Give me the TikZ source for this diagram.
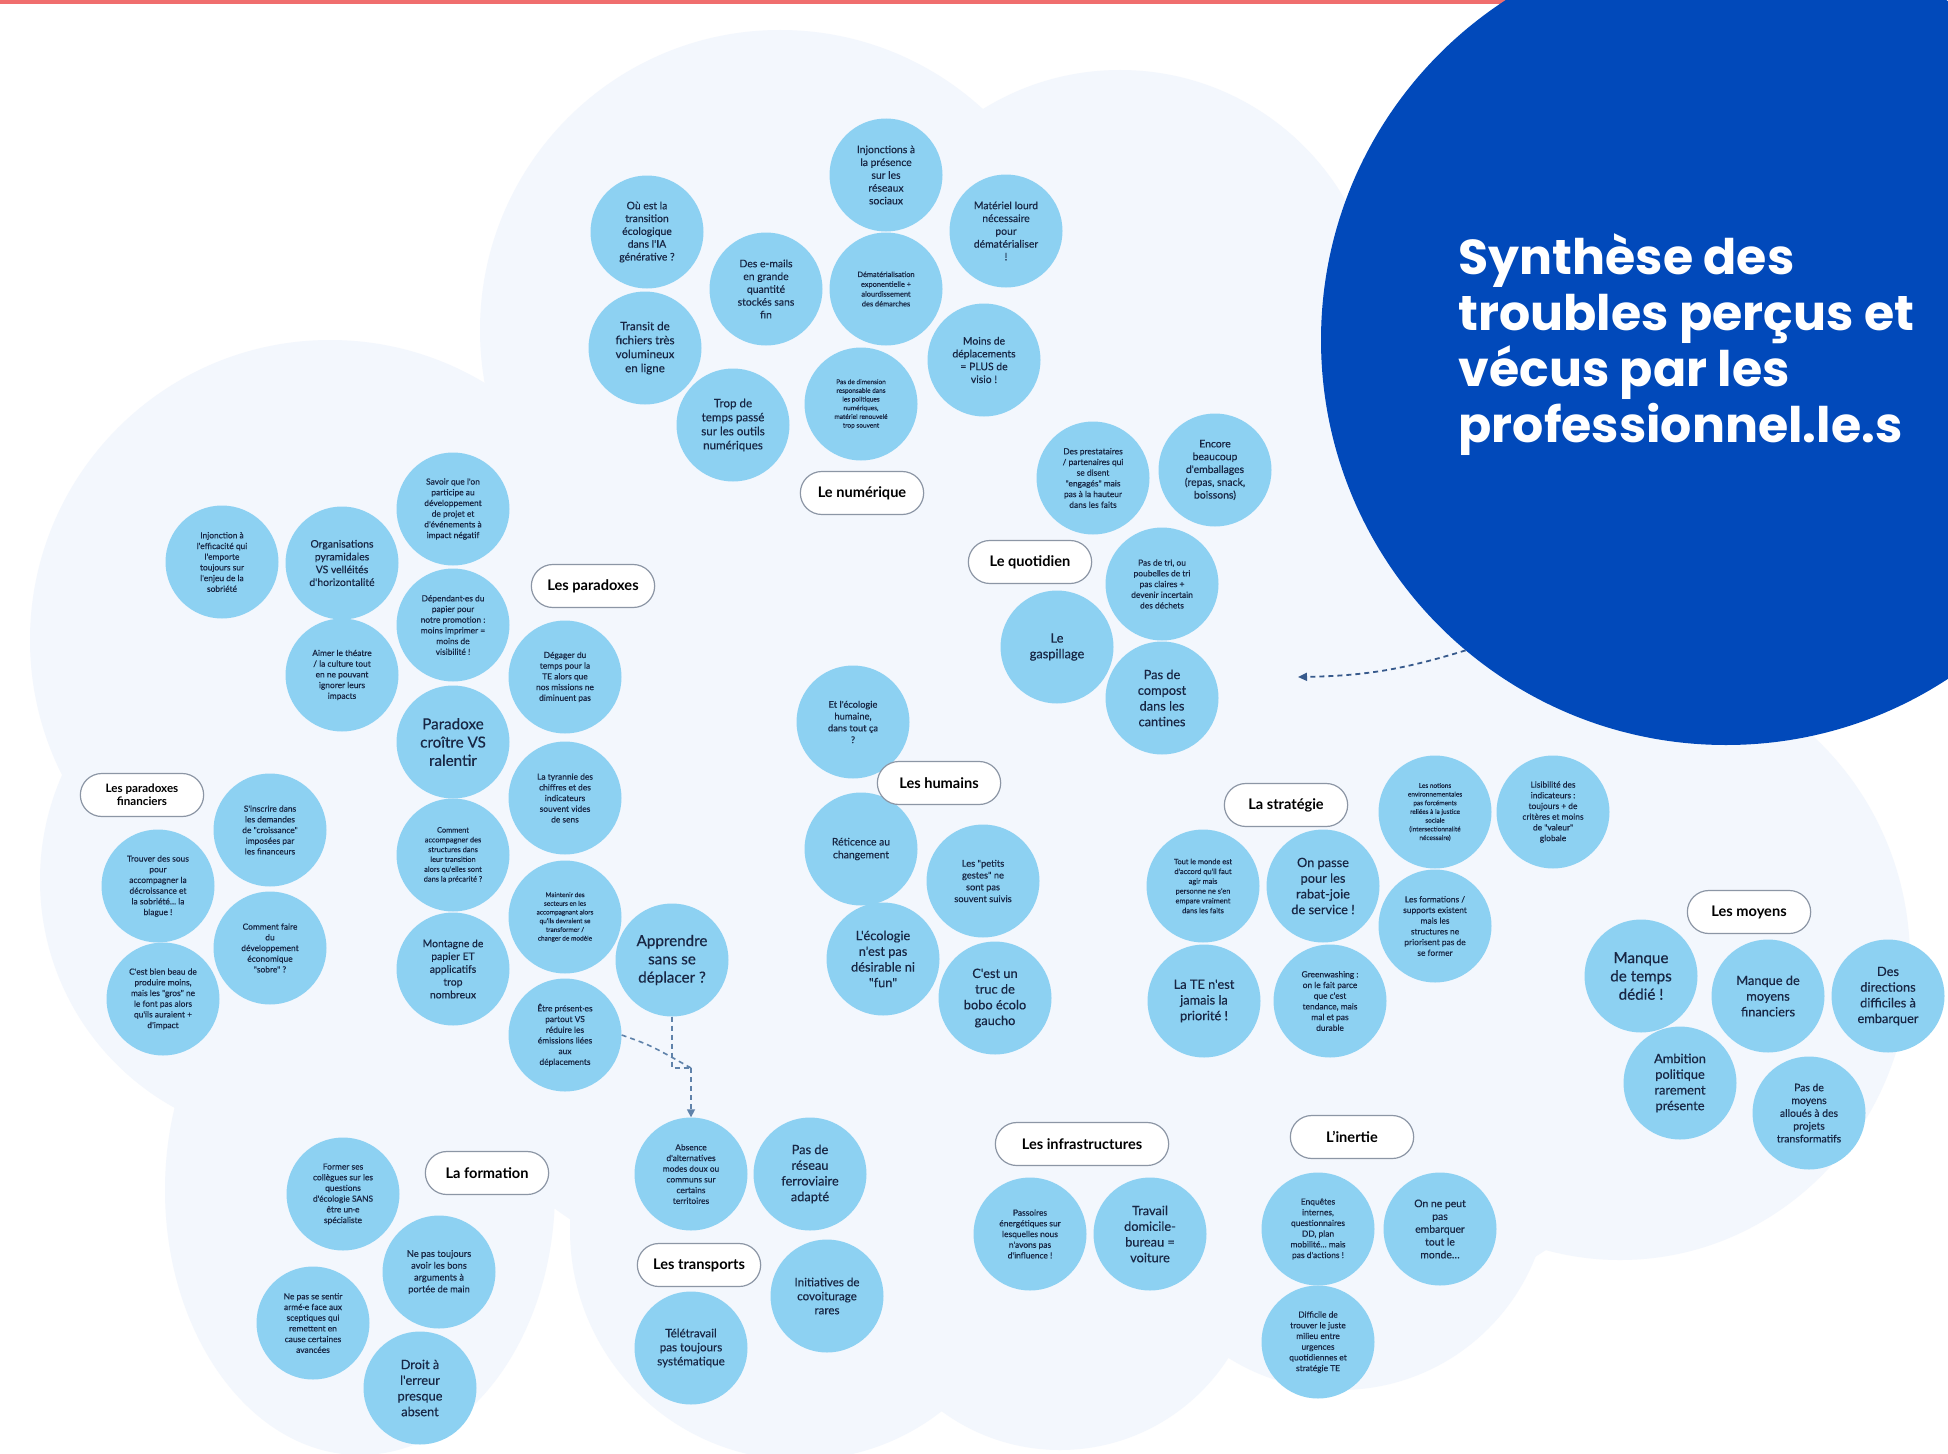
\documentclass[tikz,border=0pt]{standalone}
\usepackage{fontspec}
\setmainfont{Lato}
\newfontfamily\bubfont{Lato}[FakeBold=0.35]
\newfontfamily\titlefont{Poppins}
\usetikzlibrary{shapes.misc,arrows.meta}
\definecolor{bubble}{RGB}{141,209,242}
\definecolor{ink}{RGB}{24,38,68}
\definecolor{cloud}{RGB}{243,247,253}
\definecolor{tblue}{RGB}{1,73,186}
\definecolor{pillline}{RGB}{140,150,165}
\definecolor{dashc}{RGB}{95,130,170}
\definecolor{dasht}{RGB}{55,90,140}
\definecolor{topred}{RGB}{240,110,110}
\begin{document}
\begin{tikzpicture}[x=1pt,y=-1pt,
  bub/.style={circle, fill=bubble, minimum size=113pt, inner sep=0pt, align=center, text=ink},
  pill/.style={rounded rectangle, draw=pillline, line width=1.2pt, fill=white, minimum width=130pt, minimum height=43pt, align=center, text=black, font=\bfseries\fontsize{14.6}{16}\selectfont},
  fxs/.style={font=\bubfont\fontsize{6.5}{8.7}\selectfont},
  ft/.style={font=\bubfont\fontsize{7.4}{9.8}\selectfont},
  fs/.style={font=\bubfont\fontsize{8.4}{10.7}\selectfont},
  fsm/.style={font=\bubfont\fontsize{9.3}{11.8}\selectfont},
  fm/.style={font=\bubfont\fontsize{10.4}{12.8}\selectfont},
  fml/.style={font=\bubfont\fontsize{11.6}{14}\selectfont},
  fl/.style={font=\bubfont\fontsize{12.8}{15.7}\selectfont},
  fxl/.style={font=\bubfont\fontsize{15.2}{18.3}\selectfont},
  dconn/.style={draw=dashc, dash pattern=on 5pt off 4pt, line width=1.6pt},
  tconn/.style={draw=dasht, dash pattern=on 5pt off 4pt, line width=1.8pt}
]
\useasboundingbox (0,0) rectangle (1948,1453);
\clip (0,0) rectangle (1948,1453);
\fill[white] (0,0) rectangle (1948,1453);
% pale cloud
\fill[cloud] (780,330) circle[radius=300pt];
\fill[cloud] (1120,330) circle[radius=260pt];
\fill[cloud] (330,640) circle[radius=300pt];
\fill[cloud] (300,880) circle[radius=260pt];
\fill[cloud] (360,1190) ellipse[x radius=195pt, y radius=265pt];
\fill[cloud] (980,820) ellipse[x radius=640pt, y radius=520pt];
\fill[cloud] (800,1230) circle[radius=230pt];
\fill[cloud] (1060,1250) circle[radius=200pt];
\fill[cloud] (1340,1180) circle[radius=210pt];
\fill[cloud] (1380,1000) circle[radius=300pt];
\fill[cloud] (1620,960) ellipse[x radius=290pt, y radius=300pt];
% top line
\fill[topred] (0,0) rectangle (1530,4);
% title circle
\node[circle, fill=tblue, minimum size=810pt, inner sep=0pt] (title) at (1726,340) {};
\node[anchor=west, align=left, text=white, font=\titlefont\bfseries\fontsize{49}{56}\selectfont] (ttext) at (1455,345)
  {Synthèse des\\troubles perçus et\\vécus par les\\professionnel.le.s};

% Le numérique
\node[bub,fm] (n1) at (647,232) {Où est la\\transition\\écologique\\dans l'IA\\générative ?};
\node[bub,fm] (n2) at (886,175) {Injonctions à\\la présence\\sur les\\réseaux\\sociaux};
\node[bub,fm] (n3) at (1006,231) {Matériel lourd\\nécessaire\\pour\\dématérialiser\\!};
\node[bub,fm] (n4) at (766,289) {Des e-mails\\en grande\\quantité\\stockés sans\\fin};
\node[bub,ft] (n5) at (886,289) {Dématérialisation\\exponentielle +\\alourdissement\\des démarches};
\node[bub,fml] (n6) at (645,348) {Transit de\\fichiers très\\volumineux\\en ligne};
\node[bub,fm] (n7) at (984,360) {Moins de\\déplacements\\= PLUS de\\visio !};
\node[bub,fml] (n8) at (733,425) {Trop de\\temps passé\\sur les outils\\numériques};
\node[bub,fxs] (n9) at (861,404) {Pas de dimension\\responsable dans\\les politiques\\numériques,\\matériel renouvelé\\trop souvent};
\node[pill] (lnum) at (862,493) {Le numérique};

% Le quotidien
\node[bub,fs] (q1) at (1093,478) {Des prestataires\\/ partenaires qui\\se disent\\"engagés" mais\\pas à la hauteur\\dans les faits};
\node[bub,fm] (q2) at (1215,470) {Encore\\beaucoup\\d'emballages\\(repas, snack,\\boissons)};
\node[bub,fs] (q3) at (1162,584) {Pas de tri, ou\\poubelles de tri\\pas claires +\\devenir incertain\\des déchets};
\node[bub,fl] (q4) at (1057,647) {Le\\gaspillage};
\node[bub,fl] (q5) at (1162,698) {Pas de\\compost\\dans les\\cantines};
\node[pill] (lquo) at (1030,562) {Le quotidien};

% Les paradoxes
\node[bub,fs] (p1) at (222,562) {Injonction à\\l'efficacité qui\\l'emporte\\toujours sur\\l'enjeu de la\\sobriété};
\node[bub,fm] (p2) at (342,563) {Organisations\\pyramidales\\VS velléités\\d'horizontalité};
\node[bub,fs] (p3) at (453,509) {Savoir que l'on\\participe au\\développement\\de projet et\\d'événements à\\impact négatif};
\node[bub,fs] (p4) at (453,625) {Dépendant·es du\\papier pour\\notre promotion :\\moins imprimer =\\moins de\\visibilité !};
\node[bub,fs] (p5) at (342,675) {Aimer le théatre\\/ la culture tout\\en ne pouvant\\ignorer leurs\\impacts};
\node[bub,fs] (p6) at (565,677) {Dégager du\\temps pour la\\TE alors que\\nos missions ne\\diminuent pas};
\node[bub,fxl] (p7) at (453,742) {Paradoxe\\croître VS\\ralentir};
\node[bub,fs] (p8) at (565,798) {La tyrannie des\\chiffres et des\\indicateurs\\souvent vides\\de sens};
\node[bub,ft] (p9) at (453,855) {Comment\\accompagner des\\structures dans\\leur transition\\alors qu'elles sont\\dans la précarité ?};
\node[bub,fxs] (p10) at (565,917) {Maintenir des\\secteurs en les\\accompagnant alors\\qu'ils devraient se\\transformer /\\changer de modèle};
\node[bub,fm] (p11) at (453,969) {Montagne de\\papier ET\\applicatifs\\trop\\nombreux};
\node[bub,fxl] (appr) at (672,960) {Apprendre\\sans se\\déplacer ?};
\node[bub,fs] (etre) at (565,1035) {Être présent·es\\partout VS\\réduire les\\émissions liées\\aux\\déplacements};
\node[pill] (lpar) at (593,586) {Les paradoxes};

% Les paradoxes financiers
\node[bub,fs] (f1) at (270,830) {S'inscrire dans\\les demandes\\de "croissance"\\imposées par\\les financeurs};
\node[bub,fs] (f2) at (158,886) {Trouver des sous\\pour\\accompagner la\\décroissance et\\la sobriété… la\\blague !};
\node[bub,fs] (f3) at (270,948) {Comment faire\\du\\développement\\économique\\"sobre" ?};
\node[bub,fs] (f4) at (163,999) {C'est bien beau de\\produire moins,\\mais les "gros" ne\\le font pas alors\\qu'ils auraient +\\d'impact};
\node[pill, font=\bfseries\fontsize{11.6}{13.4}\selectfont] (lfin) at (142,795) {Les paradoxes\\financiers};

% La formation
\node[bub,fs] (fo1) at (343,1194) {Former ses\\collègues sur les\\questions\\d'écologie SANS\\être un·e\\spécialiste};
\node[bub,fsm] (fo2) at (439,1272) {Ne pas toujours\\avoir les bons\\arguments à\\portée de main};
\node[bub,fs] (fo3) at (313,1323) {Ne pas se sentir\\armé·e face aux\\sceptiques qui\\remettent en\\cause certaines\\avancées};
\node[bub,fl] (fo4) at (420,1388) {Droit à\\l'erreur\\presque\\absent};
\node[pill] (lfor) at (487,1173) {La formation};

% Les transports
\node[bub,fs] (t1) at (691,1174) {Absence\\d'alternatives\\modes doux ou\\communs sur\\certains\\territoires};
\node[bub,fl] (t2) at (810,1174) {Pas de\\réseau\\ferroviaire\\adapté};
\node[bub,fml] (t3) at (827,1296) {Initiatives de\\covoiturage\\rares};
\node[bub,fml] (t4) at (691,1348) {Télétravail\\pas toujours\\systématique};
\node[pill] (ltra) at (699,1265) {Les transports};

% Les humains
\node[bub,fsm] (h1) at (853,722) {Et l'écologie\\humaine,\\dans tout ça\\?};
\node[bub,fm] (h2) at (861,849) {Réticence au\\changement};
\node[bub,fsm] (h3) at (983,881) {Les "petits\\gestes" ne\\sont pas\\souvent suivis};
\node[bub,fl] (h4) at (883,959) {L'écologie\\n'est pas\\désirable ni\\"fun"};
\node[bub,fl] (h5) at (995,998) {C'est un\\truc de\\bobo écolo\\gaucho};
\node[pill] (lhum) at (939,783) {Les humains};

% La stratégie
\node[bub,ft] (s1) at (1203,886) {Tout le monde est\\d'accord qu'il faut\\agir mais\\personne ne s'en\\empare vraiment\\dans les faits};
\node[bub,fl] (s2) at (1323,886) {On passe\\pour les\\rabat-joie\\de service !};
\node[bub,fxs] (s3) at (1435,812) {Les notions\\environnementales\\pas forcéments\\reliées à la justice\\sociale\\(intersectionnalité\\nécessaire)};
\node[bub,fs] (s4) at (1553,812) {Lisibilité des\\indicateurs :\\toujours + de\\critères et moins\\de "valeur"\\globale};
\node[bub,fs] (s5) at (1435,926) {Les formations /\\supports existent\\mais les\\structures ne\\priorisent pas de\\se former};
\node[bub,fl] (s6) at (1204,1001) {La TE n'est\\jamais la\\priorité !};
\node[bub,fs] (s7) at (1330,1001) {Greenwashing :\\on le fait parce\\que c'est\\tendance, mais\\mal et pas\\durable};
\node[pill] (lstr) at (1286,805) {La stratégie};

% Les moyens
\node[bub,fxl] (m1) at (1641,976) {Manque\\de temps\\dédié !};
\node[bub,fl] (m2) at (1768,996) {Manque de\\moyens\\financiers};
\node[bub,fl] (m3) at (1888,996) {Des\\directions\\difficiles à\\embarquer};
\node[bub,fl] (m4) at (1680,1083) {Ambition\\politique\\rarement\\présente};
\node[bub,fm] (m5) at (1809,1113) {Pas de\\moyens\\alloués à des\\projets\\transformatifs};
\node[pill] (lmoy) at (1749,912) {Les moyens};

% Les infrastructures
\node[bub,fs] (i1) at (1030,1234) {Passoires\\énergétiques sur\\lesquelles nous\\n'avons pas\\d'influence !};
\node[bub,fl] (i2) at (1150,1234) {Travail\\domicile-\\bureau =\\voiture};
\node[pill, minimum width=180pt] (linf) at (1082,1144) {Les infrastructures};

% L'inertie
\node[bub,fs] (e1) at (1318,1229) {Enquêtes\\internes,\\questionnaires\\DD, plan\\mobilité… mais\\pas d'actions !};
\node[bub,fm] (e2) at (1440,1229) {On ne peut\\pas\\embarquer\\tout le\\monde…};
\node[bub,fs] (e3) at (1318,1342) {Difficile de\\trouver le juste\\milieu entre\\urgences\\quotidiennes et\\stratégie TE};
\node[pill] (liner) at (1352,1137) {L'inertie};

% connectors
\coordinate (tend) at (1298,677);
\draw[tconn, -{Triangle[length=9pt,width=8pt]}] (title.230) to[bend left=8] (tend);
\coordinate (merge) at (691,1068);
\draw[dconn] (appr.south) |- (merge);
\draw[dconn] (etre.east) .. controls (650,1045) .. (merge);
\draw[dconn, -{Triangle[length=8pt,width=8pt]}] (merge) -- (t1.north);
\end{tikzpicture}
\end{document}
